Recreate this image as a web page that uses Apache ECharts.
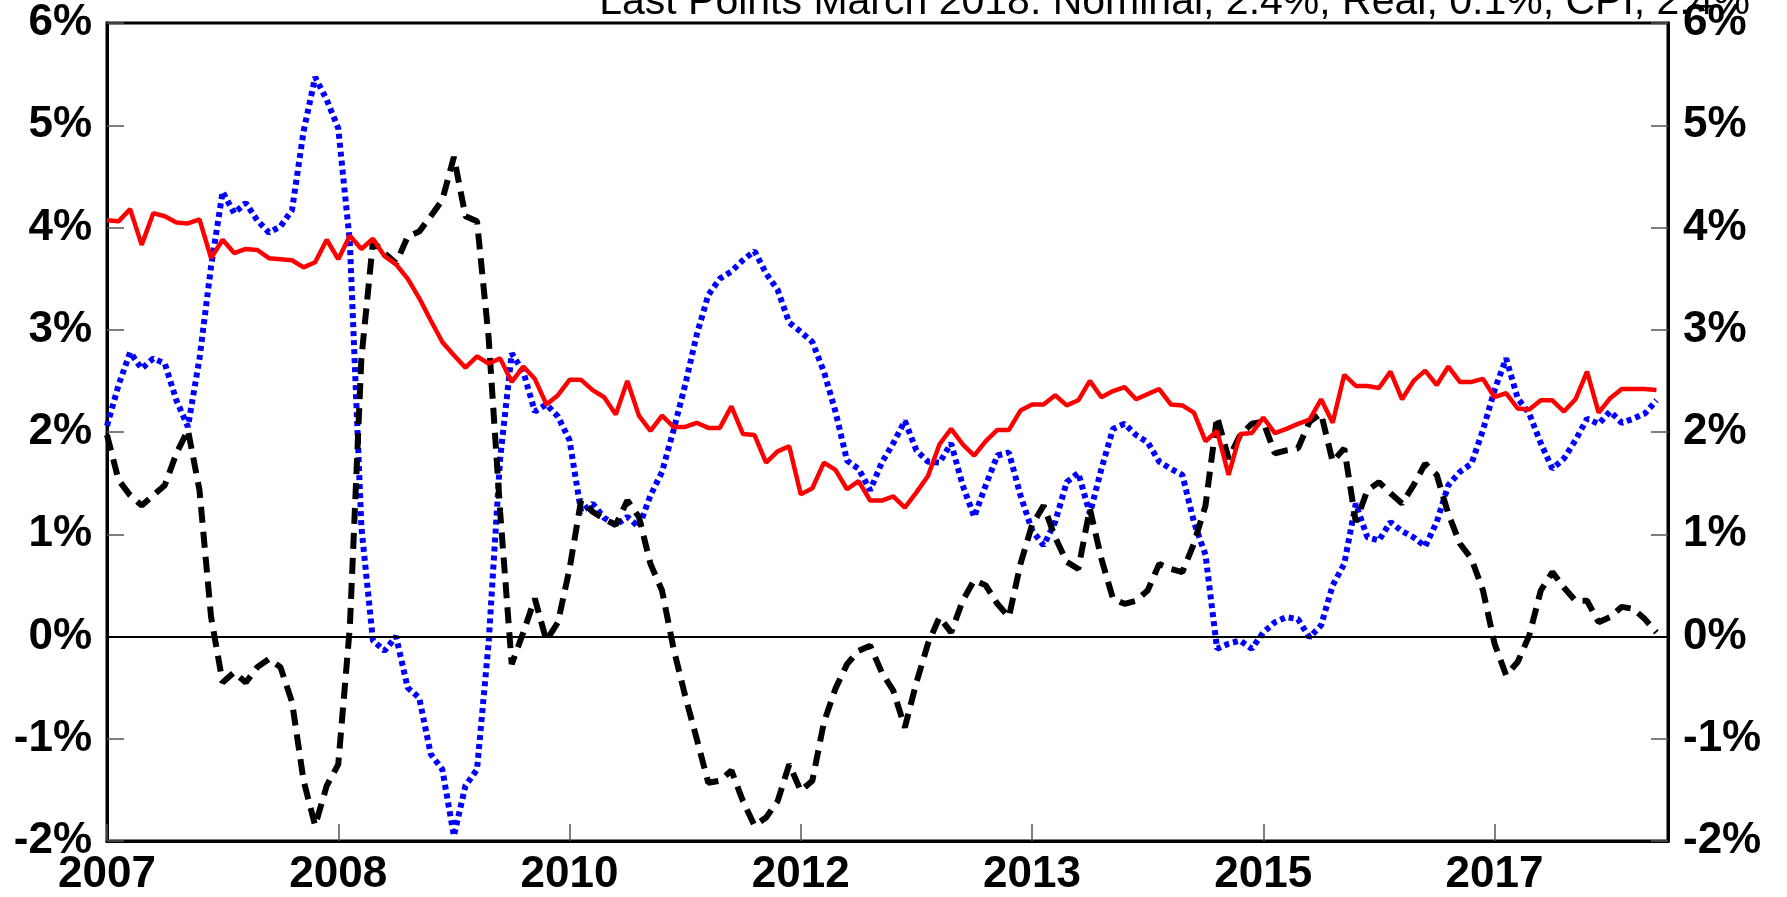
<!DOCTYPE html>
<html>
<head>
<meta charset="utf-8">
<script src="https://cdn.jsdelivr.net/npm/echarts@6/dist/echarts.min.js"></script>
<style>
  html, body { margin: 0; padding: 0; background: #fff; }
  #main { width: 1787px; height: 897px; }
</style>
</head>
<body>
<div id="main"></div>
<script>
// monthly, Jan 2007 .. Apr 2018 (last month has no data)
const startYear = 2007;
const months = [];
for (let i = 0; i < 136; i++) {
  const y = startYear + Math.floor(i / 12);
  const m = (i % 12) + 1;
  months.push(y + "-" + (m < 10 ? "0" + m : m));
}

const yTicks = [-2, -1, 0, 1, 2, 3, 4, 5, 6];

const nominal = [
  4.07, 4.06, 4.18, 3.83, 4.14, 4.11, 4.05, 4.04, 4.08, 3.70, 3.88, 3.75,
  3.79, 3.78, 3.70, 3.69, 3.68, 3.61, 3.66, 3.88, 3.69, 3.92, 3.79, 3.89,
  3.72, 3.64, 3.50, 3.31, 3.09, 2.88, 2.75, 2.63, 2.74, 2.67, 2.72, 2.49,
  2.64, 2.52, 2.27, 2.36, 2.51, 2.51, 2.41, 2.34, 2.17, 2.50, 2.16, 2.01,
  2.16, 2.05, 2.05, 2.09, 2.04, 2.04, 2.25, 1.98, 1.97, 1.70, 1.81, 1.86,
  1.39, 1.45, 1.70, 1.63, 1.44, 1.52, 1.33, 1.33, 1.37, 1.26, 1.41, 1.57,
  1.88, 2.03, 1.88, 1.77, 1.91, 2.02, 2.02, 2.21, 2.27, 2.27, 2.36, 2.26,
  2.31, 2.50, 2.34, 2.40, 2.44, 2.32, 2.37, 2.42, 2.27, 2.26, 2.19, 1.91,
  2.01, 1.58, 1.98, 1.99, 2.14, 1.99, 2.03, 2.08, 2.12, 2.32, 2.09, 2.56,
  2.45, 2.45, 2.43, 2.59, 2.32, 2.50, 2.60, 2.46, 2.64, 2.49, 2.49, 2.52,
  2.34, 2.38, 2.23, 2.22, 2.31, 2.31, 2.20, 2.32, 2.59, 2.19, 2.33, 2.42,
  2.42, 2.42, 2.41
];

const cpi = [
  2.06, 2.46, 2.78, 2.62, 2.72, 2.67, 2.31, 2.05, 2.72, 3.62, 4.35, 4.14,
  4.24, 4.07, 3.95, 4.01, 4.17, 4.94, 5.47, 5.25, 4.97, 3.86, 1.07, -0.04,
  -0.14, 0.00, -0.50, -0.60, -1.15, -1.30, -1.95, -1.46, -1.30, -0.07, 1.74, 2.77,
  2.59, 2.20, 2.27, 2.15, 1.92, 1.22, 1.30, 1.16, 1.09, 1.17, 1.07, 1.38,
  1.61, 2.02, 2.46, 2.95, 3.34, 3.50, 3.57, 3.68, 3.77, 3.55, 3.39, 3.07,
  2.98, 2.88, 2.59, 2.20, 1.72, 1.64, 1.43, 1.70, 1.89, 2.11, 1.82, 1.71,
  1.70, 1.89, 1.48, 1.17, 1.48, 1.77, 1.80, 1.38, 1.04, 0.89, 1.12, 1.51,
  1.60, 1.20, 1.64, 2.03, 2.08, 1.97, 1.90, 1.71, 1.64, 1.58, 1.12, 0.80,
  -0.12, -0.07, -0.04, -0.12, 0.04, 0.14, 0.19, 0.17, -0.01, 0.11, 0.50, 0.71,
  1.30, 0.97, 0.94, 1.12, 1.03, 0.97, 0.88, 1.12, 1.48, 1.61, 1.69, 2.02,
  2.41, 2.72, 2.33, 2.18, 1.89, 1.64, 1.74, 1.92, 2.13, 2.08, 2.20, 2.09,
  2.13, 2.18, 2.31
];

const real = [
  1.97, 1.53, 1.38, 1.28, 1.38, 1.48, 1.79, 2.02, 1.43, 0.19, -0.45, -0.35,
  -0.45, -0.30, -0.22, -0.30, -0.64, -1.41, -1.85, -1.46, -1.25, 0.09, 2.72, 3.86,
  3.75, 3.65, 3.91, 3.96, 4.11, 4.27, 4.69, 4.11, 4.06, 2.93, 1.22, -0.27,
  0.04, 0.37, -0.04, 0.14, 0.66, 1.33, 1.22, 1.15, 1.09, 1.33, 1.17, 0.71,
  0.45, -0.12, -0.58, -1.00, -1.43, -1.41, -1.31, -1.61, -1.85, -1.77, -1.61, -1.25,
  -1.51, -1.41, -0.84, -0.51, -0.27, -0.14, -0.09, -0.35, -0.53, -0.89, -0.45, -0.07,
  0.19, 0.04, 0.35, 0.55, 0.50, 0.32, 0.19, 0.71, 1.09, 1.28, 0.97, 0.73,
  0.66, 1.25, 0.76, 0.37, 0.32, 0.35, 0.45, 0.71, 0.66, 0.63, 0.91, 1.28,
  2.15, 1.74, 1.97, 2.08, 2.10, 1.79, 1.82, 1.84, 2.10, 2.18, 1.71, 1.84,
  1.12, 1.43, 1.51, 1.40, 1.30, 1.48, 1.69, 1.58, 1.20, 0.91, 0.76, 0.45,
  -0.07, -0.38, -0.25, 0.01, 0.45, 0.63, 0.48, 0.35, 0.35, 0.14, 0.19, 0.29,
  0.27, 0.17, 0.04
];

const titleText = "Last Points March 2018. Nominal, 2.4%, Real, 0.1%, CPI, 2.4%";

const FONT = "'Liberation Sans', Arial, sans-serif";

const yAxisBase = {
  type: "value",
  min: yTicks[0],
  max: yTicks[yTicks.length - 1],
  interval: 1,
  splitLine: { show: false },
  axisLine: { show: true, lineStyle: { color: "#000", width: 3 } },
  axisTick: { show: true, inside: true, length: 17, lineStyle: { color: "#555", width: 1.5 } },
  axisLabel: {
    formatter: "{value}%",
    color: "#000",
    fontSize: 44,
    fontWeight: "bold",
    fontFamily: FONT,
    margin: 15
  }
};

const chart = echarts.init(document.getElementById("main"));
chart.setOption({
  animation: false,
  backgroundColor: "#fff",
  grid: {
    left: 107,
    right: 119,
    top: 23,
    bottom: 55,
    show: true,
    borderColor: "#000",
    borderWidth: 3
  },
  graphic: [
    {
      type: "text",
      z: 100,
      style: {
        x: 1750,
        y: 3,
        text: titleText,
        fill: "#000",
        font: "41px " + FONT,
        align: "right",
        verticalAlign: "middle"
      }
    }
  ],
  xAxis: {
    type: "category",
    data: months,
    boundaryGap: false,
    axisLine: { show: true, onZero: false, lineStyle: { color: "#000", width: 3 } },
    axisTick: { show: true, inside: true, interval: 19, length: 17, lineStyle: { color: "#555", width: 1.5 } },
    axisLabel: {
      interval: 19,
      formatter: (v) => v.slice(0, 4),
      color: "#000",
      fontSize: 44,
      fontWeight: "bold",
      fontFamily: FONT,
      margin: 12
    },
    splitLine: { show: false }
  },
  yAxis: [
    Object.assign({}, yAxisBase, { position: "left" }),
    Object.assign({}, yAxisBase, { position: "right" })
  ],
  series: [
    {
      name: "CPI",
      type: "line",
      data: cpi,
      showSymbol: false,
      lineStyle: { color: "#0000ff", width: 6, type: [5, 4] },
      z: 2
    },
    {
      name: "Real",
      type: "line",
      data: real,
      showSymbol: false,
      lineStyle: { color: "#000", width: 6, type: [16, 9] },
      z: 3,
      markLine: {
        silent: true,
        symbol: "none",
        label: { show: false },
        lineStyle: { color: "#000", width: 2, type: "solid" },
        data: [{ yAxis: 0 }]
      }
    },
    {
      name: "Nominal",
      type: "line",
      data: nominal,
      showSymbol: false,
      lineStyle: { color: "#ff0000", width: 4.5 },
      z: 4
    }
  ]
});
</script>
</body>
</html>
